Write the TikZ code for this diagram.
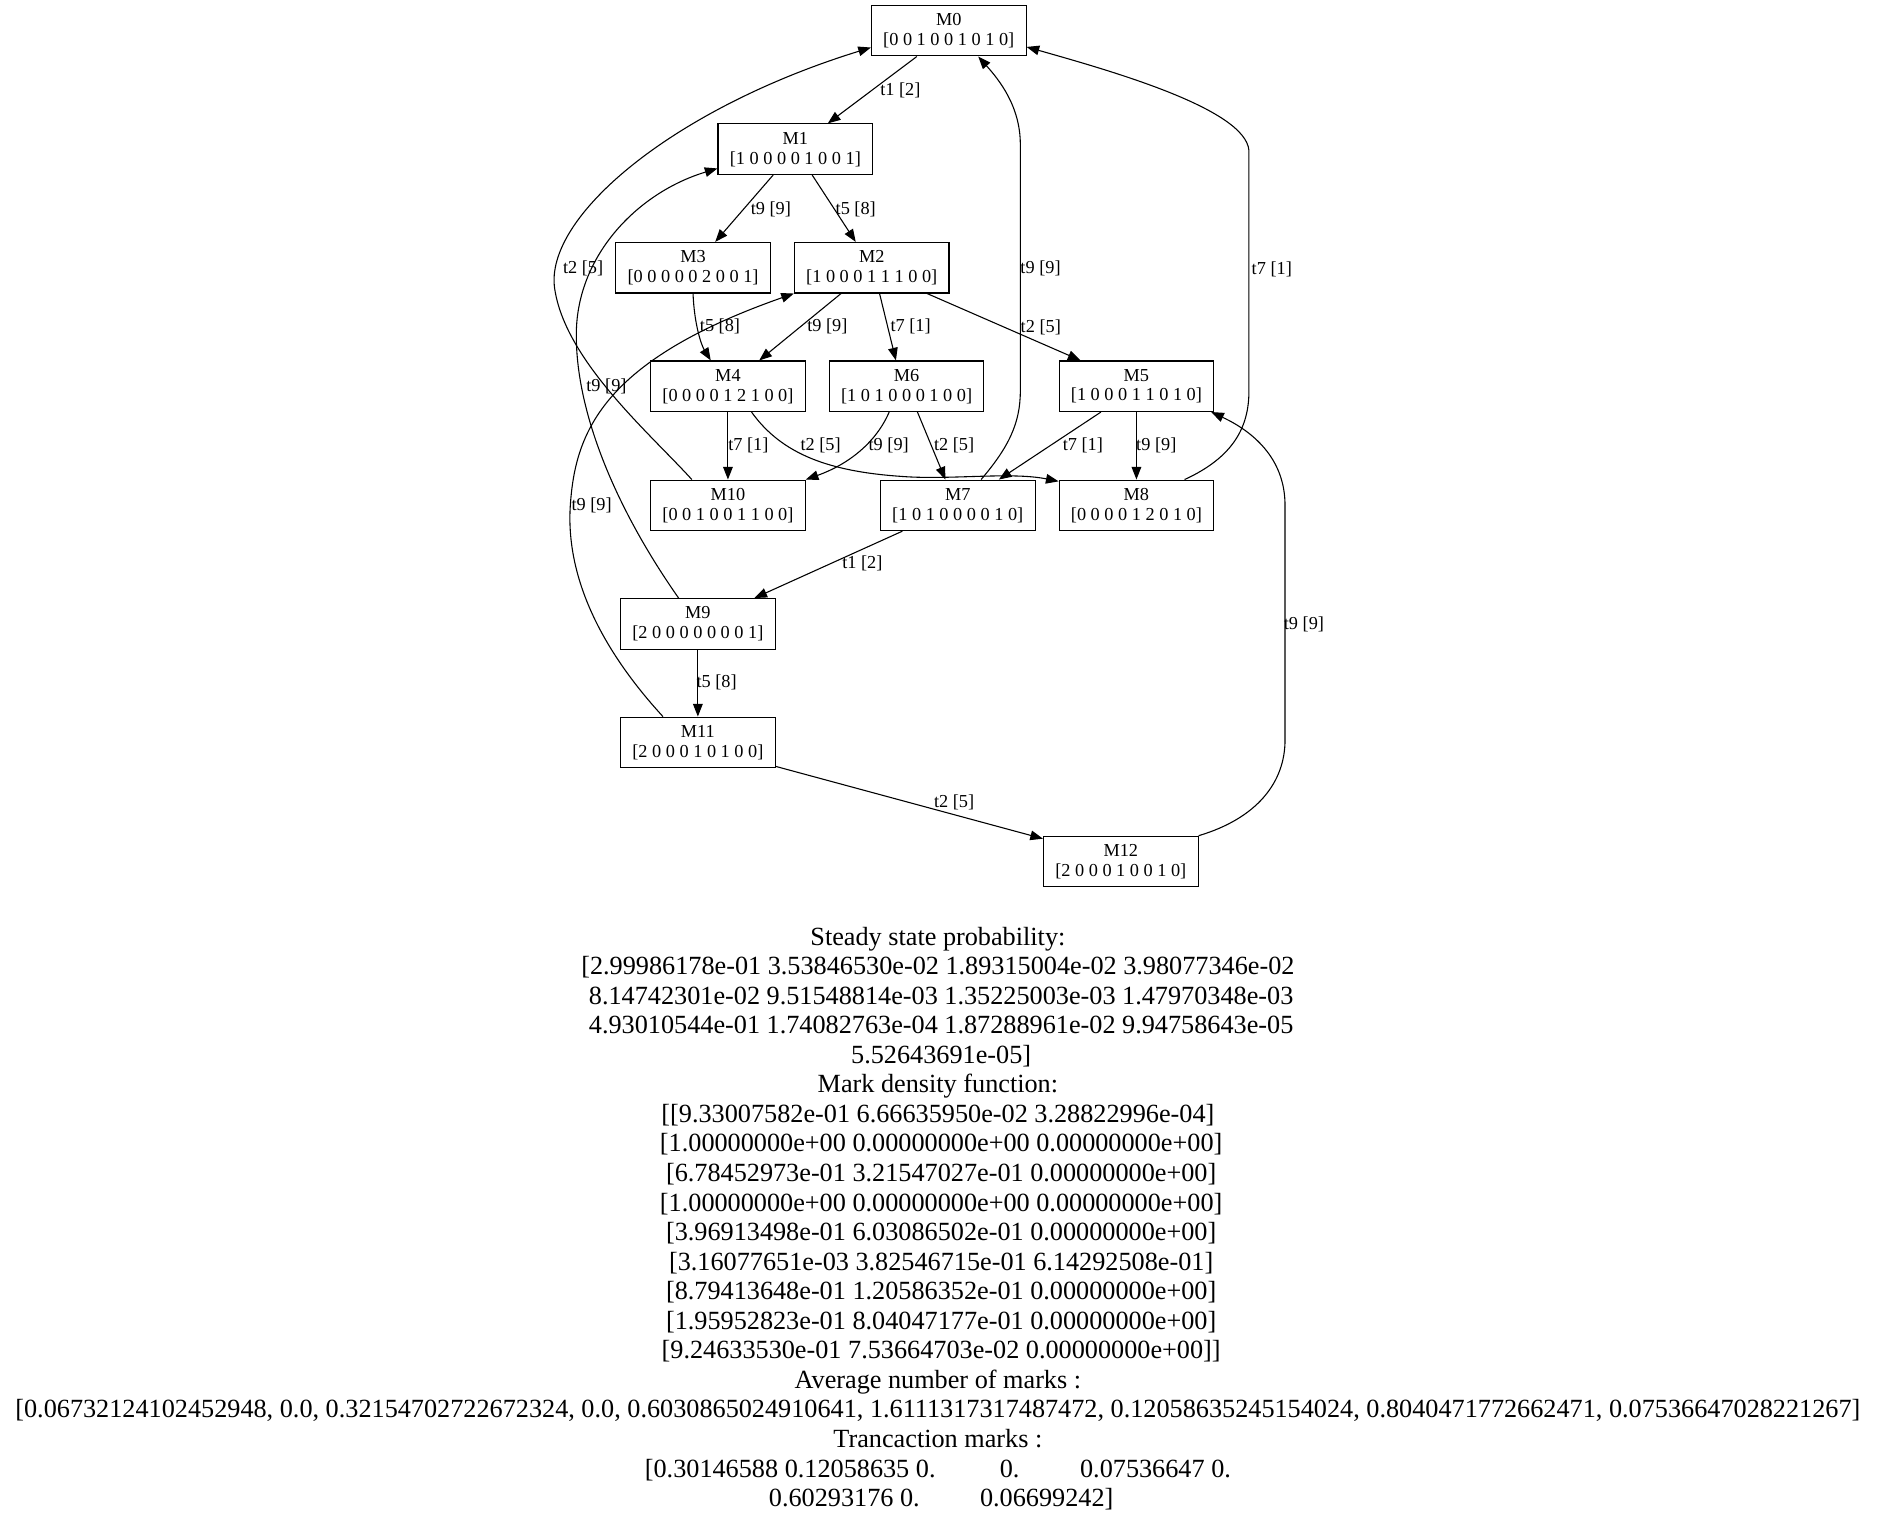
\documentclass[tikz,border=0pt]{standalone}
\usepackage{fontspec}
\setmainfont{Liberation Serif}
\usetikzlibrary{arrows.meta}
\begin{document}
\begin{tikzpicture}[x=1pt,y=-1pt,
  mstate/.style={draw,line width=0.9pt,minimum width=128.5pt,minimum height=42pt,inner sep=0pt,align=center,font=\fontsize{15.2pt}{16.6pt}\selectfont},
  arc/.style={line width=0.9pt,-{Triangle[length=10.5pt,width=8pt]}},
  elab/.style={inner sep=0pt,font=\fontsize{15.2pt}{16.6pt}\selectfont},
  info/.style={inner sep=0pt,anchor=base,font=\fontsize{21.8pt}{24.56pt}\selectfont}]
\fill[white] (0,0) rectangle (1560,1264);
\useasboundingbox (0,0) rectangle (1560,1264);

% states
\node[mstate] (m0)  at (788.5,25.5) {M0\\{}[0 0 1 0 0 1 0 1 0]};
\node[mstate] (m1)  at (661,124)    {M1\\{}[1 0 0 0 0 1 0 0 1]};
\node[mstate] (m3)  at (576,222.5)  {M3\\{}[0 0 0 0 0 2 0 0 1]};
\node[mstate] (m2)  at (724.5,222.5){M2\\{}[1 0 0 0 1 1 1 0 0]};
\node[mstate] (m4)  at (605,321)    {M4\\{}[0 0 0 0 1 2 1 0 0]};
\node[mstate] (m6)  at (753.5,321)  {M6\\{}[1 0 1 0 0 0 1 0 0]};
\node[mstate] (m5)  at (944.5,321)  {M5\\{}[1 0 0 0 1 1 0 1 0]};
\node[mstate] (m10) at (605,420)    {M10\\{}[0 0 1 0 0 1 1 0 0]};
\node[mstate] (m7)  at (796,420)    {M7\\{}[1 0 1 0 0 0 0 1 0]};
\node[mstate] (m8)  at (944.5,420)  {M8\\{}[0 0 0 0 1 2 0 1 0]};
\node[mstate] (m9)  at (580,518.5)  {M9\\{}[2 0 0 0 0 0 0 0 1]};
\node[mstate] (m11) at (580,617)    {M11\\{}[2 0 0 0 1 0 1 0 0]};
\node[mstate] (m12) at (931.5,716)  {M12\\{}[2 0 0 0 1 0 0 1 0]};

% connectors
\draw[arc] ([xshift=-26.5pt]m0.south) -- ([xshift=27pt]m1.north);
\draw[arc] ([xshift=-18.4pt]m1.south) -- ([xshift=18.4pt]m3.north);
\draw[arc] ([xshift=14pt]m1.south) -- ([xshift=-13.3pt]m2.north);
\draw[arc] (m3.south) .. controls (577,270) and (583,287) .. ([xshift=-14.3pt]m4.north);
\draw[arc] ([xshift=-25.5pt]m2.south) -- ([xshift=26pt]m4.north);
\draw[arc] ([xshift=6.5pt]m2.south) -- ([xshift=-8.9pt]m6.north);
\draw[arc] ([xshift=46pt]m2.south) -- ([xshift=-46.5pt]m5.north);
\draw[arc] (m4.south) -- (m10.north);
\draw[arc] ([xshift=19.6pt]m4.south) .. controls (650,378) and (690,392) .. (750,396) .. controls (790,399) and (840,392) .. ([yshift=-1.5pt]m8.north west);
\draw[arc] ([xshift=-14.5pt]m6.south) .. controls (728,368) and (705,386) .. (m10.north east);
\draw[arc] ([xshift=9pt]m6.south) -- ([xshift=-10.3pt]m7.north);
\draw[arc] ([xshift=-29.5pt]m5.south) -- ([xshift=34.2pt]m7.north);
\draw[arc] (m5.south) -- (m8.north);
\draw[arc] ([xshift=19.4pt]m7.north) .. controls (838,372) and (848,352) .. (848,325) -- (848,120) .. controls (848,88) and (830,66) .. ([xshift=24.5pt]m0.south);
\draw[arc] ([xshift=40pt]m8.north) .. controls (1025,380) and (1038,355) .. (1038,325) -- (1038,125) .. controls (1035,90) and (920,58) .. ([yshift=-13.5pt]m0.east);
\draw[arc] ([xshift=-30pt]m10.north) .. controls (540,360) and (470,300) .. (461,240) .. controls (452,180) and (560,90) .. ([yshift=-14pt]m0.west);
\draw[arc] ([xshift=-16pt]m9.north) .. controls (510,420) and (478,340) .. (479,276) .. controls (480,212) and (530,160) .. ([yshift=-16pt]m1.west);
\draw[arc] ([xshift=-29pt]m11.north) .. controls (500,540) and (470,480) .. (474,420) .. controls (478,360) and (500,300) .. (m2.south west);
\draw[arc] ([xshift=-46pt]m7.south) -- ([xshift=47pt]m9.north);
\draw[arc] (m9.south) -- (m11.north);
\draw[arc] ([yshift=1.5pt]m11.south east) -- ([yshift=-2.5pt]m12.north west);
\draw[arc] (m12.north east) .. controls (1045,680) and (1068,650) .. (1068,615) -- (1068,420) .. controls (1068,380) and (1040,358) .. ([xshift=-2.5pt]m5.south east);

% connector labels
\node[elab] (e1)  at (748.3,74.8) {t1 [2]};
\node[elab] (e2)  at (640.7,174)  {t9 [9]};
\node[elab] (e3)  at (711.2,174)  {t5 [8]};
\node[elab] (e4)  at (484.6,223)  {t2 [5]};
\node[elab] (e5)  at (864.8,223)  {t9 [9]};
\node[elab] (e6)  at (1057,224)   {t7 [1]};
\node[elab] (e7)  at (598.4,271.5){t5 [8]};
\node[elab] (e8)  at (687.6,271.5){t9 [9]};
\node[elab] (e9)  at (756.8,271.5){t7 [1]};
\node[elab] (e10) at (865,272)    {t2 [5]};
\node[elab] (e11) at (504,321.4)  {t9 [9]};
\node[elab] (e12) at (622,370)    {t7 [1]};
\node[elab] (e13) at (682,370)    {t2 [5]};
\node[elab] (e14) at (738.6,370)  {t9 [9]};
\node[elab] (e15) at (793,370)    {t2 [5]};
\node[elab] (e16) at (900,370)    {t7 [1]};
\node[elab] (e17) at (961,370)    {t9 [9]};
\node[elab] (e18) at (491.7,419.8){t9 [9]};
\node[elab] (e19) at (716.7,468.5){t1 [2]};
\node[elab] (e20) at (595.6,567)  {t5 [8]};
\node[elab] (e21) at (793,667)    {t2 [5]};
\node[elab] (e22) at (1083.7,519) {t9 [9]};

% results text
\node[info] (s0)  at (779.5,785.5)  {Steady state probability:};
\node[info] (s1)  at (779.5,810.06) {[2.99986178e-01 3.53846530e-02 1.89315004e-02 3.98077346e-02};
\node[info] (s2)  at (782.2,834.62) {8.14742301e-02 9.51548814e-03 1.35225003e-03 1.47970348e-03};
\node[info] (s3)  at (782.2,859.18) {4.93010544e-01 1.74082763e-04 1.87288961e-02 9.94758643e-05};
\node[info] (s4)  at (782.2,883.74) {5.52643691e-05]};
\node[info] (s5)  at (779.5,908.30) {Mark density function:};
\node[info] (s6)  at (779.5,932.86) {[[9.33007582e-01 6.66635950e-02 3.28822996e-04]};
\node[info] (s7)  at (782.2,957.42) {[1.00000000e+00 0.00000000e+00 0.00000000e+00]};
\node[info] (s8)  at (782.2,981.98) {[6.78452973e-01 3.21547027e-01 0.00000000e+00]};
\node[info] (s9)  at (782.2,1006.54){[1.00000000e+00 0.00000000e+00 0.00000000e+00]};
\node[info] (s10) at (782.2,1031.10){[3.96913498e-01 6.03086502e-01 0.00000000e+00]};
\node[info] (s11) at (782.2,1055.66){[3.16077651e-03 3.82546715e-01 6.14292508e-01]};
\node[info] (s12) at (782.2,1080.22){[8.79413648e-01 1.20586352e-01 0.00000000e+00]};
\node[info] (s13) at (782.2,1104.78){[1.95952823e-01 8.04047177e-01 0.00000000e+00]};
\node[info] (s14) at (782.2,1129.34){[9.24633530e-01 7.53664703e-02 0.00000000e+00]]};
\node[info] (s15) at (779.5,1153.90){Average number of marks :};
\node[info] (s16) at (779.5,1178.46){[0.06732124102452948, 0.0, 0.32154702722672324, 0.0, 0.6030865024910641, 1.6111317317487472, 0.12058635245154024, 0.8040471772662471, 0.07536647028221267]};
\node[info] (s17) at (779.5,1203.02){Trancaction marks :};
\node[info] (s18) at (779.5,1227.58){[0.30146588 0.12058635 0.\hspace{2.45em}0.\hspace{2.31em}0.07536647 0.};
\node[info] (s19) at (782.2,1252.14){0.60293176 0.\hspace{2.3em}0.06699242]};
\end{tikzpicture}
\end{document}
